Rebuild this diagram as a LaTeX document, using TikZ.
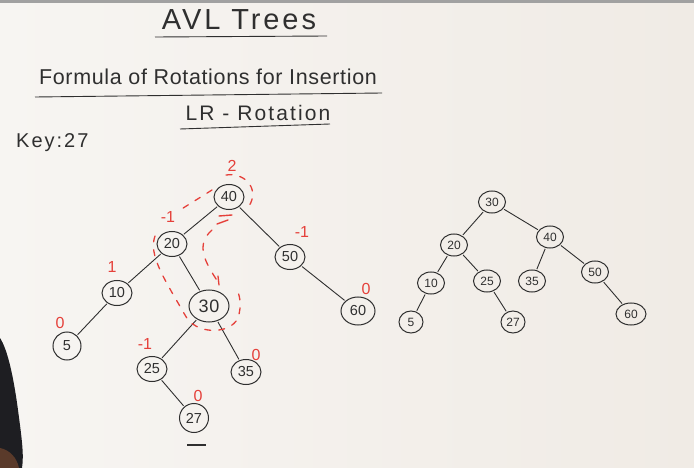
\documentclass[tikz,border=0pt]{standalone}
\usepackage{fontspec}
\setmainfont{Liberation Sans}
\newfontfamily\wide[LetterSpace=10]{Liberation Sans}
\newfontfamily\loose[LetterSpace=3]{Liberation Sans}
\usetikzlibrary{shapes.geometric,calc}
\definecolor{board}{HTML}{F7F5F2}
\definecolor{boardedge}{HTML}{F0EBE5}
\definecolor{ink}{HTML}{2F2F2F}
\definecolor{marker}{HTML}{E5403A}
\definecolor{sleeve}{HTML}{1E1E22}
\definecolor{skin}{HTML}{5A3A2A}
\begin{document}
\begin{tikzpicture}[x=1pt,y=-1pt,
  key/.style={ellipse,draw=ink,line width=1pt,inner sep=0pt,
    minimum width=30pt,minimum height=25pt,text=ink,
    font=\fontsize{14.5}{14}\selectfont},
  keybig/.style={key,minimum width=40pt,minimum height=32pt,font=\loose\fontsize{18}{18}\selectfont},
  keysm/.style={key,minimum width=27pt,minimum height=22pt,font=\fontsize{12}{12}\selectfont},
  edge/.style={ink,line width=0.9pt,shorten <=1pt,shorten >=1pt},
  bf/.style={text=marker,font=\fontsize{16}{16}\selectfont},
  trace/.style={marker,line width=1.3pt,dash pattern=on 6pt off 8pt,line cap=round},
  title/.style={text=ink,inner sep=0pt}]
% board
\shade[left color=board,right color=boardedge] (0,0) rectangle (694,468);
\fill[ink!45] (0,0) rectangle (694,3);
% arm at the lower left edge
\fill[sleeve] (0,338) .. controls (8,350) and (14,380) .. (18,410)
  .. controls (22,440) and (24,455) .. (22,468) -- (0,468) -- cycle;
\fill[skin] (0,448) .. controls (10,450) and (17,458) .. (19,468) -- (0,468) -- cycle;

% headings
\node[title,font=\wide\fontsize{29}{29}\selectfont] (head) at (239,20) {AVL Trees};
\draw[ink,line width=0.9pt] (155,37) -- (327,36);
\node[title,font=\loose\fontsize{21.5}{21}\selectfont] (formula) at (208,77) {Formula of Rotations for Insertion};
\draw[ink,line width=0.9pt] (35,97) -- (382,93);
\node[title,font=\wide\fontsize{21}{21}\selectfont] (lr) at (258,113) {LR - Rotation};
\draw[ink,line width=0.9pt] (180,129) -- (330,124);
\node[title,font=\wide\fontsize{20}{20}\selectfont,anchor=west] (key) at (16,143) {Key:27};

% tree after inserting 27
\node[key] (a40) at (229,197) {40};
\node[key] (a20) at (172,244) {20};
\node[key] (a50) at (290,257) {50};
\node[key] (a10) at (117,293) {10};
\node[keybig] (a30) at (209,306) {30};
\node[key,minimum width=34pt,minimum height=28pt] (a60) at (358,311) {60};
\node[key,minimum width=28pt,minimum height=28pt] (a5) at (67,346) {5};
\node[key] (a25) at (152,369) {25};
\node[key] (a35) at (246,372) {35};
\node[key,minimum width=29pt,minimum height=29pt] (a27) at (194,418) {27};
\draw[edge] (a40) -- (a20);
\draw[edge] (a40) -- (a50);
\draw[edge] (a20) -- (a10);
\draw[edge] (a20) -- (a30);
\draw[edge] (a50) -- (a60);
\draw[edge] (a10) -- (a5);
\draw[edge] (a30) -- (a25);
\draw[edge] (a30) -- (a35);
\draw[edge] (a25) -- (a27);
\coordinate (bar0) at (187,445);
\coordinate (bar1) at (206,445);
\draw[ink,line width=2pt] (bar0) -- (bar1);

% balance factors
\node[bf] (b40) at (232,166) {2};
\node[bf] (b20) at (168,217) {-1};
\node[bf] (b50) at (302,232) {-1};
\node[bf] (b10) at (112,267) {1};
\node[bf] (b5) at (60,323) {0};
\node[bf] (b25) at (145,344) {-1};
\node[bf] (b35) at (256,355) {0};
\node[bf] (b60) at (366,289) {0};
\node[bf] (b27) at (198,396) {0};

% path of the imbalance
\draw[trace] (226,175) .. controls (247,172) and (262,192) .. (246,210);
\draw[trace] (212,190) -- (180,210);
\draw[trace] (155,236) .. controls (148,255) and (165,280) .. (185,315)
  .. controls (195,335) and (230,335) .. (238,318) .. controls (242,305) and (240,295) .. (236,288);
\draw[marker,line width=1.4pt,line cap=round] (219,216) -- (232,215);
\draw[marker,line width=1.4pt,line cap=round] (217,224) -- (228,220);
\draw[trace,dash pattern=on 7pt off 9pt] (212,230) .. controls (195,245) and (205,262) .. (218,282);
\draw[marker,line width=1.3pt,line cap=round] (218,276) -- (219,285);

% tree after the LR rotation
\node[keysm] (r30) at (492,202) {30};
\node[keysm] (r20) at (454,245) {20};
\node[keysm] (r40) at (550,237) {40};
\node[keysm] (r10) at (431,283) {10};
\node[keysm] (r25) at (487,281) {25};
\node[keysm] (r35) at (532,281) {35};
\node[keysm] (r50) at (595,272) {50};
\node[keysm,minimum width=24pt] (r5) at (411,322) {5};
\node[keysm,minimum width=24pt] (r27) at (513,322) {27};
\node[keysm,minimum width=30pt] (r60) at (631,314) {60};
\draw[edge] (r30) -- (r20);
\draw[edge] (r30) -- (r40);
\draw[edge] (r20) -- (r10);
\draw[edge] (r20) -- (r25);
\draw[edge] (r40) -- (r35);
\draw[edge] (r40) -- (r50);
\draw[edge] (r10) -- (r5);
\draw[edge] (r25) -- (r27);
\draw[edge] (r50) -- (r60);
\end{tikzpicture}
\end{document}
